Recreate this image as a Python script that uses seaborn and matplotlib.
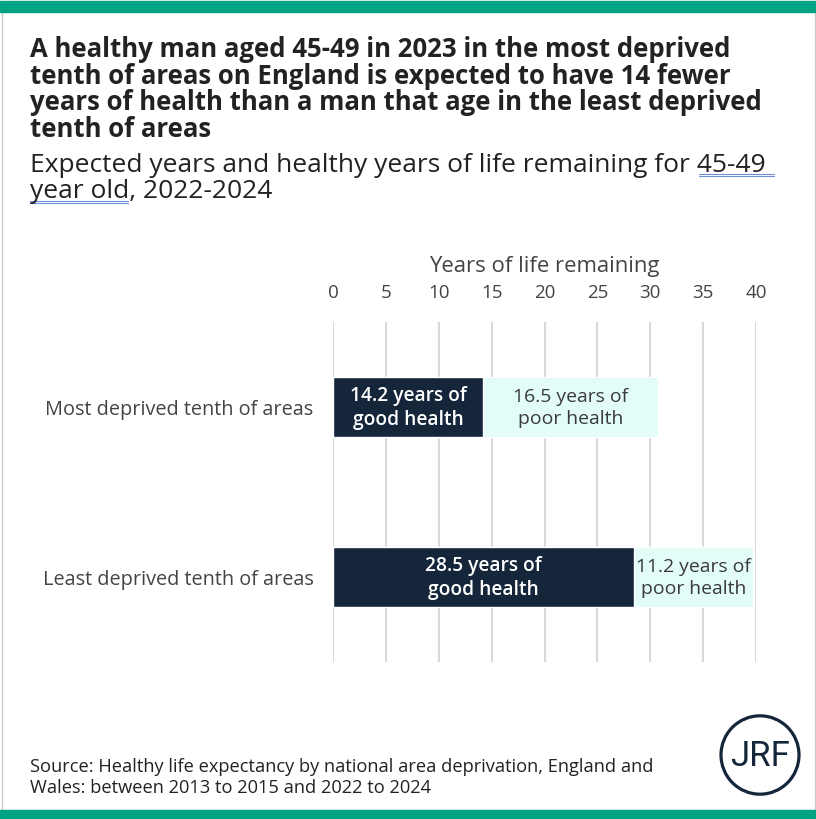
import matplotlib
matplotlib.use("Agg")
import matplotlib.pyplot as plt
import seaborn as sns
import pandas as pd
from matplotlib.patches import Rectangle, Circle
from matplotlib.lines import Line2D

categories = ["Most deprived tenth of areas", "Least deprived tenth of areas"]
good_health = [14.2, 28.5]
poor_health = [16.5, 11.2]
good_labels = ["14.2 years of\ngood health", "28.5 years of\ngood health"]
poor_labels = ["16.5 years of\npoor health", "11.2 years of\npoor health"]
x_ticks = [0, 5, 10, 15, 20, 25, 30, 35, 40]
title_lines = [
    "A healthy man aged 45-49 in 2023 in the most deprived",
    "tenth of areas on England is expected to have 14 fewer",
    "years of health than a man that age in the least deprived",
    "tenth of areas",
]
subtitle_lines = [
    "Expected years and healthy years of life remaining for 45-49",
    "year old, 2022-2024",
]
source_lines = [
    "Source: Healthy life expectancy by national area deprivation, England and",
    "Wales: between 2013 to 2015 and 2022 to 2024",
]

DARK = "#15253A"
LIGHT = "#E2FCF8"
GREEN = "#00A383"
GRID = "#D9D9D9"
W, H = 816, 820

sns.set_theme(style="white")
plt.rcParams["font.family"] = ["Open Sans", "DejaVu Sans"]

df = pd.DataFrame({"category": categories, "good": good_health, "poor": poor_health})
df["total"] = df["good"] + df["poor"]

fig = plt.figure(figsize=(W / 100, H / 100), dpi=100)
fig.patch.set_facecolor("white")
renderer = fig.canvas.get_renderer()


def fx(px):
    return px / W


def fy(py):
    return 1 - py / H


def fit(t, target_px):
    bb = t.get_window_extent(renderer)
    t.set_fontsize(t.get_fontsize() * target_px / bb.width)


# decorative frame
fig.add_artist(Rectangle((0, fy(13)), 1, 11 / H, transform=fig.transFigure, color=GREEN, zorder=5))
fig.add_artist(Rectangle((0, 0), 1, 9 / H, transform=fig.transFigure, color=GREEN, zorder=5))
for xx in (1.5, W - 1.5):
    fig.add_artist(Line2D([fx(xx)] * 2, [fy(811), fy(13)], transform=fig.transFigure,
                          color="#CCCCCC", lw=1))

ax = fig.add_axes([fx(333), fy(663), (756 - 333) / W, 340 / H])

bar_w = 60 / 170
sns.barplot(data=df, x="total", y="category", color=LIGHT, width=bar_w,
            saturation=1, ax=ax, orient="h")
sns.barplot(data=df, x="good", y="category", color=DARK, width=bar_w,
            saturation=1, ax=ax, orient="h")

ax.set_xlim(0, 40)
ax.set_ylim(1.5, -0.5)
ax.set_xticks(x_ticks)
ax.set_xticklabels([str(t) for t in x_ticks])
ax.xaxis.tick_top()
ax.xaxis.set_label_position("top")
ax.set_xlabel("Years of life remaining", fontsize=14, color="#444444", labelpad=9)
ax.set_ylabel("")
ax.tick_params(axis="x", length=0, pad=15, labelsize=13.5, labelcolor="#444444")
ax.tick_params(axis="y", length=0, pad=14, labelcolor="#444444")
for s in ax.spines.values():
    s.set_visible(False)
ax.grid(axis="x", color=GRID, lw=1.5)
ax.set_axisbelow(True)

# fit sizes of axis texts
fit(ax.xaxis.label, 231)
ylabels = ax.get_yticklabels()
ylabels[0].set_fontsize(13)
fs_cat = 13 * 267 / ylabels[0].get_window_extent(renderer).width
ax.tick_params(axis="y", labelsize=fs_cat)

probe = ax.text(0, 0, "14.2 years of", fontsize=12, fontweight="semibold")
fs_good = 12 * 117 / probe.get_window_extent(renderer).width
probe.remove()
probe = ax.text(0, 0, "16.5 years of", fontsize=12)
fs_poor = 12 * 115 / probe.get_window_extent(renderer).width
probe.remove()

for i in range(len(categories)):
    g = df["good"][i]
    p = df["poor"][i]
    ax.text(g / 2, i, good_labels[i], ha="center", va="center", color="white",
            fontsize=fs_good, fontweight="semibold", linespacing=1.25)
    ax.text(g + p / 2, i, poor_labels[i], ha="center", va="center", color="#3A3A3A",
            fontsize=fs_poor, linespacing=1.25)

# title
title_base = [57, 83.5, 110, 137]
tt = [fig.text(fx(30), fy(b), s, ha="left", va="baseline", fontsize=17,
               fontweight="bold", color="#222222") for s, b in zip(title_lines, title_base)]
bb = tt[2].get_window_extent(renderer)
fs = 17 * 731 / bb.width
for t in tt:
    t.set_fontsize(fs)

# subtitle
sub_base = [172, 198]
st = [fig.text(fx(30), fy(b), s, ha="left", va="baseline", fontsize=17,
               color="#222222") for s, b in zip(subtitle_lines, sub_base)]
bb = st[0].get_window_extent(renderer)
fs = 17 * 737 / bb.width
for t in st:
    t.set_fontsize(fs)

# spell-check style double underline
for yy in (174.5, 177):
    fig.add_artist(Line2D([fx(699), fx(774)], [fy(yy)] * 2,
                          transform=fig.transFigure, color="#6F8FD8", lw=0.8))
for yy in (201.5, 204):
    fig.add_artist(Line2D([fx(30), fx(128)], [fy(yy)] * 2,
                          transform=fig.transFigure, color="#6F8FD8", lw=0.8))

# source
src_base = [772, 793]
sr = [fig.text(fx(30), fy(b), s, ha="left", va="baseline", fontsize=11,
               color="#222222") for s, b in zip(source_lines, src_base)]
bb = sr[0].get_window_extent(renderer)
fs = 11 * 625 / bb.width
for t in sr:
    t.set_fontsize(fs)

# JRF logo
fig.add_artist(Circle((fx(760), fy(756)), 39 / W, transform=fig.transFigure,
                      fill=False, edgecolor=DARK, lw=2.3))
fig.text(fx(760), fy(757), "JRF", ha="center", va="center", fontsize=25,
         color=DARK, fontfamily=["Roboto", "DejaVu Sans"])

fig.savefig("out.png", dpi=100, facecolor="white")
